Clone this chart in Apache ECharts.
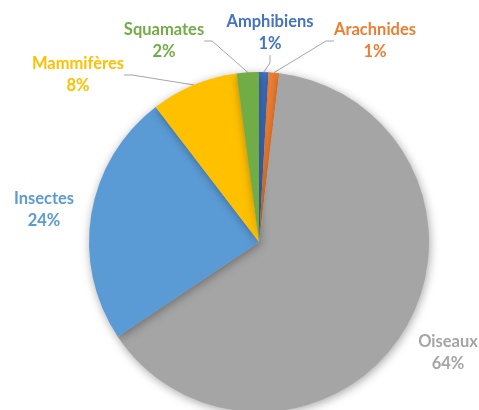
<!DOCTYPE html>
<html><head><meta charset="utf-8">
<script src="https://cdn.jsdelivr.net/npm/echarts@6/dist/echarts.min.js"></script>
<style>html,body{margin:0;padding:0;background:#fff}#c{width:479px;height:410px}</style>
</head><body><div id="c"></div>
<script>
const categories = ['Amphibiens','Arachnides','Oiseaux','Insectes','Mammifères','Squamates'];
const values = [0.9, 1.0, 63.7, 24.0, 8.3, 2.1];
const colors = ['#4472C4','#ED7D31','#A5A5A5','#5B9BD5','#FFC000','#70AD47'];
const showLine = [true, true, false, false, true, true];
const labelPos = [[270,33],[375,41],[448,353],[44,210],[78,75],[164,41]];

const chart = echarts.init(document.getElementById('c'));
chart.setOption({
  animation:false,
  series:[{
    type:'pie',
    center:[259,242],
    radius:170,
    startAngle:90,
    clockwise:true,
    percentPrecision:0,
    avoidLabelOverlap:false,
    itemStyle:{shadowBlur:10,shadowColor:'rgba(0,0,0,0.35)',shadowOffsetX:1,shadowOffsetY:2},
    label:{
      formatter:'{b}\n{d}%',
      fontFamily:'Lato',
      fontWeight:'bold',
      fontSize:16.5,
      lineHeight:22,
      align:'center'
    },
    labelLine:{lineStyle:{color:'#A6A6A6',width:1},length:10,length2:8},
    labelLayout:function(p){
      const pos = labelPos[p.dataIndex];
      return {x:pos[0], y:pos[1], align:'center', verticalAlign:'middle'};
    },
    data: categories.map((n,i)=>({
      name:n, value:values[i],
      itemStyle:{color:colors[i]},
      label:{color:colors[i]},
      labelLine:{show:showLine[i]}
    }))
  }]
});
</script></body></html>
